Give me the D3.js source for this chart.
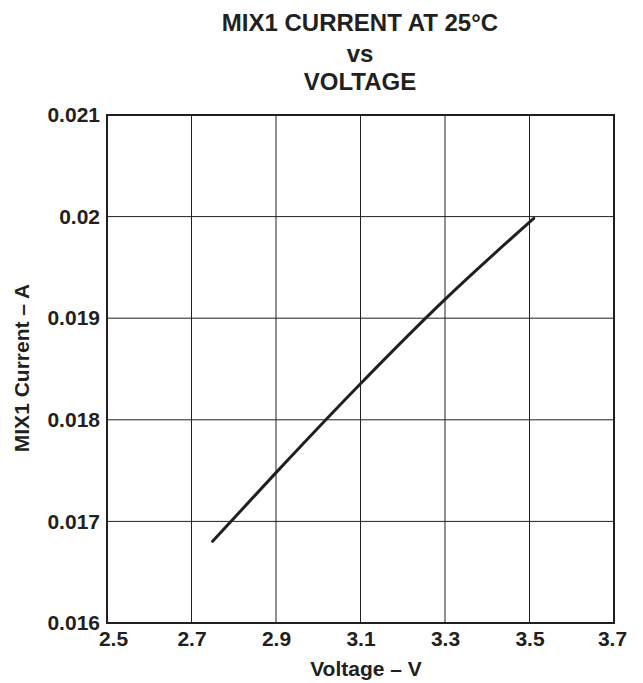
<!DOCTYPE html>
<html>
<head>
<meta charset="utf-8">
<script src="https://cdn.jsdelivr.net/npm/d3@7"></script>
<style>
  html, body { margin: 0; padding: 0; background: #fff; }
  svg { display: block; }
  text { font-family: "Liberation Sans", Arial, Helvetica, sans-serif; font-weight: bold; fill: #231f20; }
</style>
</head>
<body>
<svg id="chart" width="643" height="683"></svg>
<script>
// MIX1 supply current versus voltage at 25 °C
const voltage = [2.75, 2.9, 3.1, 3.3, 3.51];
const current = [0.016804, 0.01748, 0.018355, 0.019185, 0.019983];

const xTicks = [2.5, 2.7, 2.9, 3.1, 3.3, 3.5, 3.7];
const yTicks = [0.016, 0.017, 0.018, 0.019, 0.02, 0.021];
const titleLines = ["MIX1 CURRENT AT 25°C", "vs", "VOLTAGE"];

const svg = d3.select("#chart");
const margin = { left: 107, right: 29, top: 115, bottom: 60 };
const W = 643, H = 683;

const x = d3.scaleLinear().domain([2.5, 3.7]).range([margin.left, W - margin.right]);
const y = d3.scaleLinear().domain([0.016, 0.021]).range([H - margin.bottom, margin.top]);

// grid
const grid = svg.append("g").attr("stroke", "#231f20").attr("stroke-width", 1);
grid.selectAll("line.v").data(xTicks.slice(1, -1)).join("line")
  .attr("x1", d => x(d)).attr("x2", d => x(d))
  .attr("y1", y(0.016)).attr("y2", y(0.021));
grid.selectAll("line.h").data(yTicks.slice(1, -1)).join("line")
  .attr("y1", d => y(d)).attr("y2", d => y(d))
  .attr("x1", x(2.5)).attr("x2", x(3.7));

// frame
svg.append("rect")
  .attr("x", x(2.5)).attr("y", y(0.021))
  .attr("width", x(3.7) - x(2.5)).attr("height", y(0.016) - y(0.021))
  .attr("fill", "none").attr("stroke", "#231f20").attr("stroke-width", 2);

// axes (labels only)
const xAxis = d3.axisBottom(x).tickValues(xTicks).tickSize(0).tickPadding(8)
  .tickFormat(d => d3.format(".1f")(d));
const gx = svg.append("g").attr("transform", `translate(0,${y(0.016)})`).call(xAxis);
gx.select(".domain").remove();
gx.selectAll("text").attr("font-size", 21).attr("font-family", null).attr("fill", null)
  .attr("dx", (d, i) => i === 0 ? 6 : (i === xTicks.length - 1 ? -2 : 0));

const yAxis = d3.axisLeft(y).tickValues(yTicks).tickSize(0).tickPadding(7)
  .tickFormat(d => String(+d.toFixed(3)));
const gy = svg.append("g").attr("transform", `translate(${x(2.5)},0)`).call(yAxis);
gy.select(".domain").remove();
gy.selectAll("text").attr("font-size", 21).attr("font-family", null).attr("fill", null);

// curve
const pts = voltage.map((v, i) => [v, current[i]]);
svg.append("path")
  .datum(pts)
  .attr("fill", "none").attr("stroke", "#231f20").attr("stroke-width", 3)
  .attr("stroke-linecap", "round")
  .attr("d", d3.line().x(d => x(d[0])).y(d => y(d[1])).curve(d3.curveMonotoneX));

// titles
svg.selectAll("text.title").data(titleLines).join("text")
  .attr("class", "title")
  .attr("x", 360).attr("y", (d, i) => [31, 62, 90][i])
  .attr("text-anchor", "middle").attr("font-size", 24)
  .text(d => d);

svg.append("text")
  .attr("x", 366).attr("y", 676)
  .attr("text-anchor", "middle").attr("font-size", 21)
  .text("Voltage – V");

svg.append("text")
  .attr("transform", `translate(28.5,368) rotate(-90)`)
  .attr("text-anchor", "middle").attr("font-size", 21)
  .text("MIX1 Current – A");
</script>
</body>
</html>
